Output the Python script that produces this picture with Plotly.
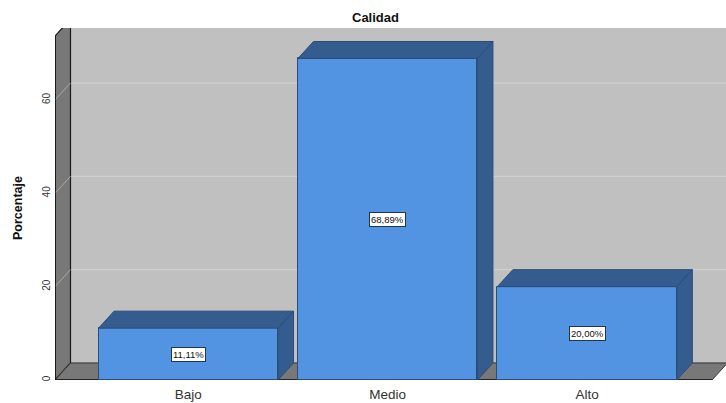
import plotly.graph_objects as go

# Data
categorias = ["Bajo", "Medio", "Alto"]
porcentajes = [11.11, 68.89, 20.00]
etiquetas = ["11,11%", "68,89%", "20,00%"]
ticks_y = [0, 20, 40, 60]

# Layout geometry (pixels)
W, H = 726, 403
ML, MR, MT, MB = 55, 0, 28, 23
plot_w = W - ML - MR
plot_h = H - MT - MB
px_per_unit_y = 4.667
px_per_cat = 199.4
first_center_px = 188.3

y_max = plot_h / px_per_unit_y
x_min = (ML - first_center_px) / px_per_cat
x_max = (W - MR - first_center_px) / px_per_cat

# Depth of the 3D projection, converted to axis units
dx = 15.5 / px_per_cat
dy = 17.0 / px_per_unit_y
bar_w = 0.9
wall_top = 73.7
floor_right = (712 - first_center_px) / px_per_cat

FRONT = "#5294e2"
SHADE = "#345c8e"
EDGE = "#2b4d78"
BACK_WALL = "#c0c0c0"
SIDE_WALL = "#787878"
GRID = "#d4d4d4"
FONT = "Arial, Liberation Sans, sans-serif"


def path(points):
    return "M " + " L ".join(f"{x},{y}" for x, y in points) + " Z"


shapes = []
# back wall
shapes.append(dict(type="rect", xref="x", yref="y", layer="below",
                   x0=x_min + dx, x1=x_max + 1, y0=dy, y1=y_max + 5,
                   fillcolor=BACK_WALL, line=dict(color="#8a8a8a", width=1)))
# gridlines on the back wall
for v in ticks_y[1:]:
    shapes.append(dict(type="line", xref="x", yref="y", layer="below",
                       x0=x_min + dx, x1=x_max + 1, y0=v + dy, y1=v + dy,
                       line=dict(color=GRID, width=1)))
# left wall
shapes.append(dict(type="path", xref="x", yref="y", layer="below",
                   path=path([(x_min, 0), (x_min, wall_top),
                              (x_min + dx, wall_top + dy), (x_min + dx, dy)]),
                   fillcolor=SIDE_WALL, line=dict(color="#1a1a1a", width=1.2)))
# gridlines on the left wall
for v in ticks_y[1:]:
    shapes.append(dict(type="line", xref="x", yref="y", layer="below",
                       x0=x_min, x1=x_min + dx, y0=v, y1=v + dy,
                       line=dict(color="#a8a8a8", width=1)))
# floor
shapes.append(dict(type="path", xref="x", yref="y", layer="below",
                   path=path([(x_min, 0), (x_min + dx, dy),
                              (floor_right + dx, dy), (floor_right, 0)]),
                   fillcolor=SIDE_WALL, line=dict(color="#3a3a3a", width=1)))
# floor front edge
shapes.append(dict(type="line", xref="x", yref="y", layer="below",
                   x0=x_min, x1=floor_right, y0=0, y1=0,
                   line=dict(color="#111111", width=1.5)))
# left wall front edge
shapes.append(dict(type="line", xref="x", yref="y", layer="below",
                   x0=x_min, x1=x_min, y0=0, y1=wall_top,
                   line=dict(color="#111111", width=1.5)))

fig = go.Figure()

# front faces of the bars
fig.add_trace(go.Bar(
    x=list(range(len(categorias))), y=porcentajes, width=bar_w,
    marker=dict(color=FRONT, line=dict(color=EDGE, width=1)),
    hoverinfo="skip", showlegend=False,
))

# top and side faces
for i, v in enumerate(porcentajes):
    l, r = i - bar_w / 2, i + bar_w / 2
    top = [(l, v), (l + dx, v + dy), (r + dx, v + dy), (r, v), (l, v)]
    side = [(r, 0), (r, v), (r + dx, v + dy), (r + dx, dy), (r, 0)]
    for pts in (top, side):
        fig.add_trace(go.Scatter(
            x=[p[0] for p in pts], y=[p[1] for p in pts],
            mode="lines", fill="toself", fillcolor=SHADE,
            line=dict(color=EDGE, width=1),
            hoverinfo="skip", showlegend=False,
        ))

annotations = []
for i, (v, t) in enumerate(zip(porcentajes, etiquetas)):
    annotations.append(dict(
        x=i, y=v / 2, xref="x", yref="y", text=t, showarrow=False,
        font=dict(family=FONT, size=9.5, color="#111111"),
        bgcolor="white", bordercolor="#1f3550", borderwidth=1, borderpad=1,
    ))

# title
annotations.append(dict(
    x=(375 - ML) / plot_w, y=1 + (MT - 17) / plot_h, xref="paper", yref="paper",
    text="<b>Calidad</b>", showarrow=False, xanchor="center", yanchor="middle",
    font=dict(family=FONT, size=13, color="#111111"),
))
# y-axis title
annotations.append(dict(
    x=(18 - ML) / plot_w, y=(H - MB - 208) / plot_h, xref="paper", yref="paper",
    text="<b>Porcentaje</b>", showarrow=False, textangle=-90,
    xanchor="center", yanchor="middle",
    font=dict(family=FONT, size=12.5, color="#111111"),
))

fig.update_layout(
    width=W, height=H,
    margin=dict(l=ML, r=MR, t=MT, b=MB, pad=0),
    paper_bgcolor="white", plot_bgcolor="white",
    shapes=shapes, annotations=annotations,
    bargap=0,
    xaxis=dict(range=[x_min, x_max], tickvals=list(range(len(categorias))),
               ticktext=categorias, showgrid=False, zeroline=False,
               showline=False, ticks="", ticklabelstandoff=4,
               tickfont=dict(family=FONT, size=13.5, color="#333333"),
               fixedrange=True),
    yaxis=dict(range=[0, y_max], tickvals=ticks_y,
               ticktext=[str(t) for t in ticks_y], tickangle=-90,
               showgrid=False, zeroline=False, showline=False, ticks="",
               ticklabelstandoff=2,
               tickfont=dict(family=FONT, size=10, color="#333333"),
               fixedrange=True),
    font=dict(family=FONT),
)

fig.write_html("out.html")
